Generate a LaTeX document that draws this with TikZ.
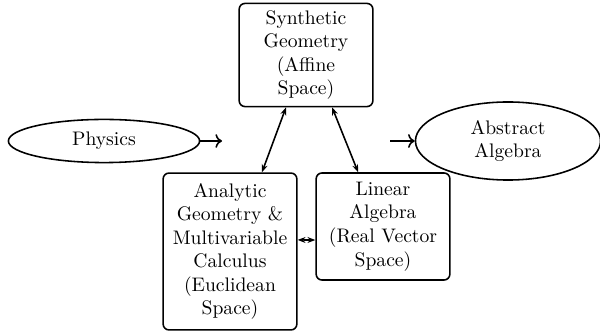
\documentclass[tikz,border=0pt]{standalone}
\usetikzlibrary{shapes.geometric,arrows.meta}
\begin{document}
\begin{tikzpicture}[x=0.51pt,y=-0.51pt,
  boxnode/.style={draw,thick,rounded corners=3pt,align=center,text width=61pt,minimum width=68.2pt,inner sep=3pt},
  ellnode/.style={draw,thick,ellipse,align=center,inner sep=0pt},
  link/.style={thick,{Stealth[length=4pt]}-{Stealth[length=4pt]}},
  feed/.style={thick,->}]
\useasboundingbox (0,0) rectangle (600,333);
\node[boxnode,minimum height=52.6pt] (syn) at (306,55) {Synthetic\\Geometry\\(Affine\\Space)};
\node[boxnode,minimum height=80pt] (ana) at (230,251.5) {Analytic\\Geometry \&\\Multivariable\\Calculus\\(Euclidean\\Space)};
\node[boxnode,minimum height=54.6pt] (lin) at (383,226.5) {Linear\\Algebra\\(Real Vector\\Space)};
\node[ellnode,minimum width=97.5pt,minimum height=22pt] (phy) at (104,141) {Physics};
\node[ellnode,minimum width=94.4pt,minimum height=39.8pt] (abs) at (508,141) {Abstract\\Algebra};
\coordinate (pend) at (222,141);
\coordinate (astart) at (390,141);
\draw[feed] (phy.east) -- (pend);
\draw[feed] (astart) -- (abs.west);
\draw[link] ([xshift=-10.2pt]syn.south) -- ([xshift=16.3pt]ana.north);
\draw[link] ([xshift=13.3pt]syn.south) -- ([xshift=-12.7pt]lin.north);
\draw[link] ([yshift=5.9pt]ana.east) -- ([yshift=-6.9pt]lin.west);
\end{tikzpicture}
\end{document}
